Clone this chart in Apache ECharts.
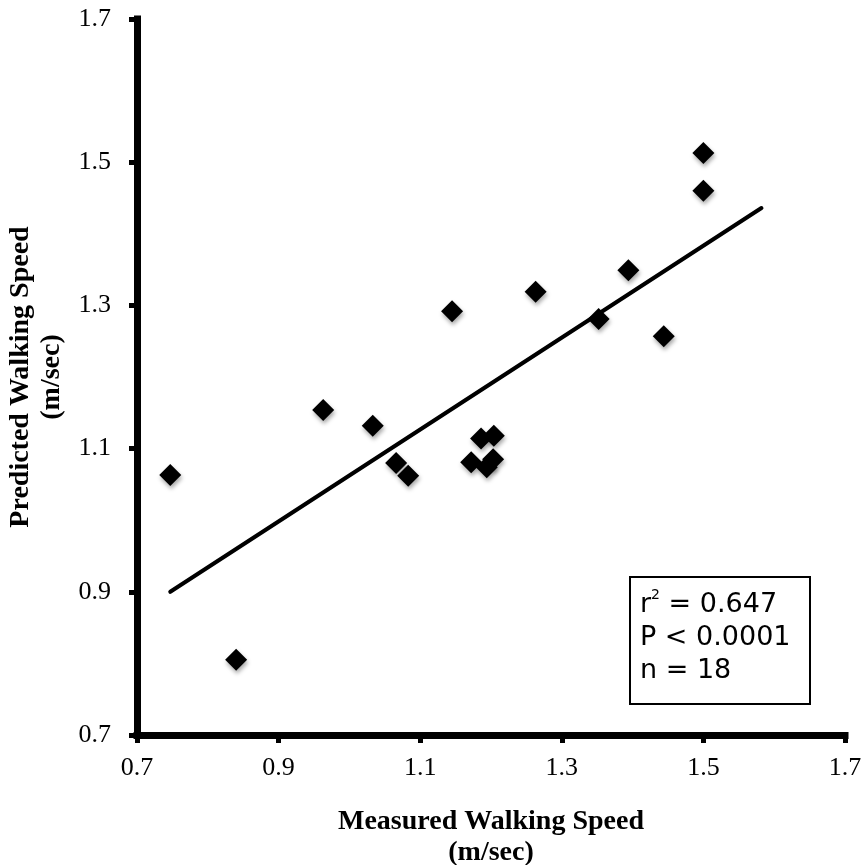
<!DOCTYPE html>
<html>
<head>
<meta charset="utf-8">
<script src="https://cdn.jsdelivr.net/npm/echarts@6/dist/echarts.min.js"></script>
<style>
  html, body { margin: 0; padding: 0; background: #fff; }
  #main { width: 863px; height: 865px; }
</style>
</head>
<body>
<div id="main"></div>
<script>
// measured vs predicted walking speed (m/sec)
const measured = [0.747, 0.840, 0.963, 1.033, 1.066, 1.083, 1.145, 1.172, 1.186, 1.204,
                  1.194, 1.203, 1.263, 1.352, 1.394, 1.444, 1.500, 1.500];
const predicted = [1.063, 0.805, 1.154, 1.132, 1.080, 1.062, 1.292, 1.081, 1.114, 1.118,
                   1.074, 1.085, 1.319, 1.281, 1.349, 1.257, 1.513, 1.460];
// regression line end points
const fitX = [0.747, 1.582];
const fitY = [0.900, 1.436];
const xTicks = [0.7, 0.9, 1.1, 1.3, 1.5, 1.7];
const yTicks = [0.7, 0.9, 1.1, 1.3, 1.5, 1.7];
const statLines = ['0.647', 'P < 0.0001', 'n = 18'];

const chart = echarts.init(document.getElementById('main'));

const points = measured.map((v, i) => [v, predicted[i]]);
const fit = fitX.map((v, i) => [v, fitY[i]]);

const tickFont = { fontFamily: 'Liberation Serif', fontSize: 26, color: '#000' };
const axisCommon = {
  type: 'value',
  min: xTicks[0],
  max: xTicks[xTicks.length - 1],
  interval: 0.2,
  splitLine: { show: false },
  axisLine: { show: true, lineStyle: { color: '#000', width: 7, cap: 'square' } },
  axisTick: { show: true, length: 8, lineStyle: { color: '#000', width: 5 } },
  nameLocation: 'middle',
  nameTextStyle: {
    fontFamily: 'Liberation Serif',
    fontWeight: 'bold',
    fontSize: 28,
    lineHeight: 31,
    color: '#000'
  }
};

const option = {
  backgroundColor: '#fff',
  animation: false,
  grid: { left: 137, right: 18, top: 19, bottom: 130, outerBoundsMode: 'none', containLabel: false },
  xAxis: Object.assign({}, axisCommon, {
    name: 'Measured Walking Speed\n(m/sec)',
    nameGap: 71,
    axisLabel: Object.assign({ margin: 20, formatter: v => v.toFixed(1) }, tickFont)
  }),
  yAxis: Object.assign({}, axisCommon, {
    min: yTicks[0],
    max: yTicks[yTicks.length - 1],
    name: 'Predicted Walking Speed\n(m/sec)',
    nameGap: 60,
    axisLabel: Object.assign({ margin: 26, formatter: v => v.toFixed(1) }, tickFont)
  }),
  series: [
    {
      type: 'line',
      data: fit,
      symbol: 'none',
      lineStyle: { color: '#000', width: 4, cap: 'round' },
      z: 2
    },
    {
      type: 'scatter',
      data: points,
      symbol: 'diamond',
      symbolSize: 22,
      itemStyle: {
        color: '#000',
        opacity: 1,
        shadowBlur: 4,
        shadowOffsetX: 1,
        shadowOffsetY: 3,
        shadowColor: 'rgba(0,0,0,0.35)'
      },
      z: 3
    }
  ],
  graphic: [
    {
      type: 'rect',
      left: 629,
      top: 576,
      shape: { width: 180, height: 127 },
      style: { fill: '#fff', stroke: '#000', lineWidth: 2 },
      z: 10
    },
    {
      type: 'text',
      left: 640,
      top: 588,
      z: 11,
      style: {
        text: '{a|r}{s|2}{a| = ' + statLines[0] + '}\n{a|' + statLines[1] + '}\n{a|' + statLines[2] + '}',
        rich: {
          a: { fontFamily: 'DejaVu Sans', fontSize: 27, lineHeight: 33, fill: '#000' },
          s: { fontFamily: 'DejaVu Sans', fontSize: 14, lineHeight: 33, fill: '#000', verticalAlign: 'top', padding: [0, 0, 16, 0] }
        }
      }
    }
  ]
};

chart.setOption(option);
</script>
</body>
</html>
